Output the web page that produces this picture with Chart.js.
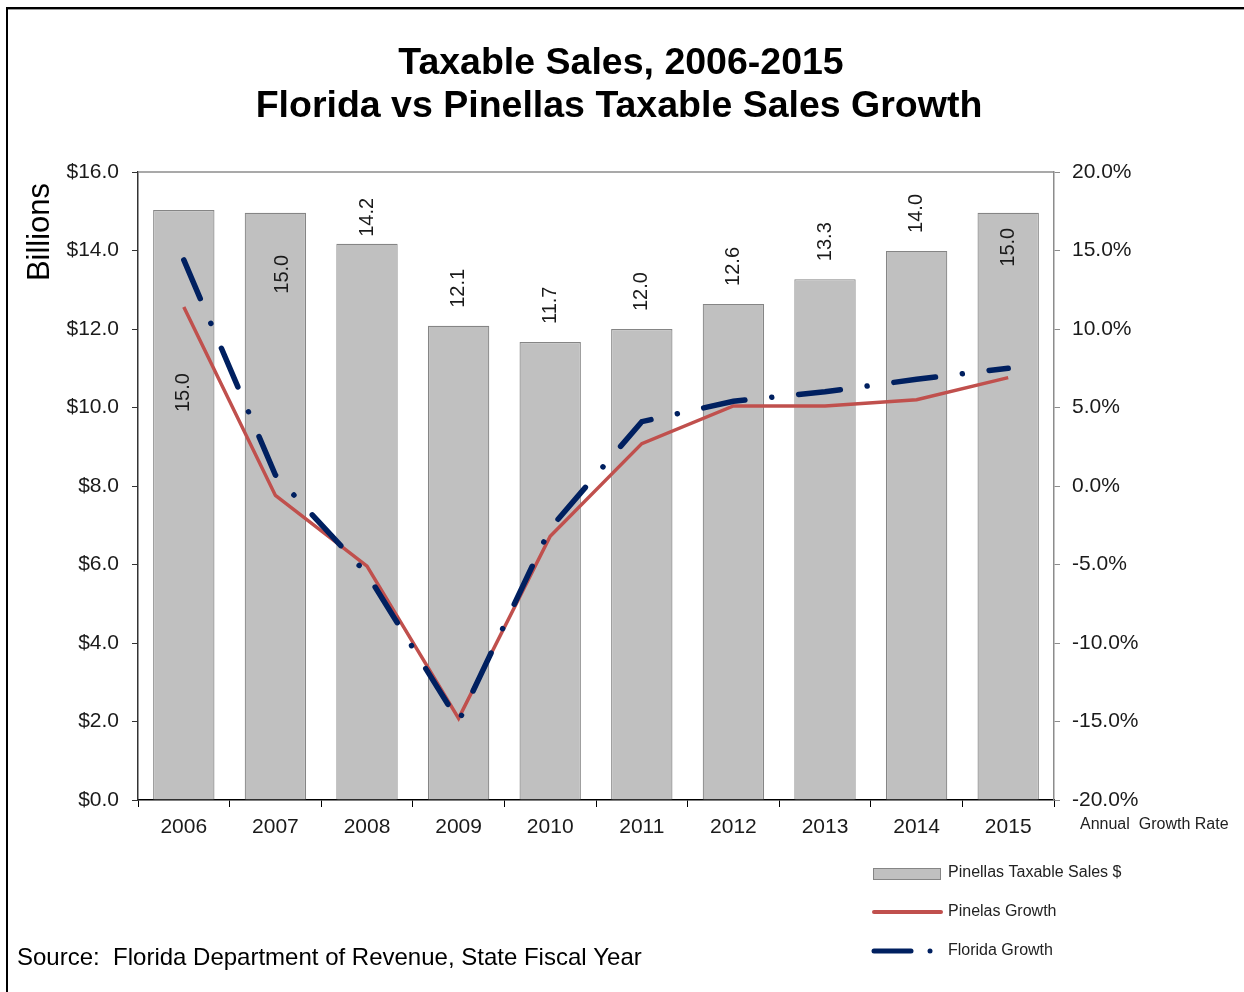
<!DOCTYPE html>
<html>
<head>
<meta charset="utf-8">
<script src="https://cdn.jsdelivr.net/npm/chart.js@4/dist/chart.umd.min.js"></script>
<style>
  html, body { margin: 0; padding: 0; background: #fff; }
  #wrap { width: 1244px; height: 992px; position: relative; }
</style>
</head>
<body>
<div id="wrap"><canvas id="taxable_sales" width="1244" height="992"></canvas></div>
<script>
const years = ["2006", "2007", "2008", "2009", "2010", "2011", "2012", "2013", "2014", "2015"];
const pinellasSales = [15.03, 14.96, 14.17, 12.08, 11.67, 12.0, 12.64, 13.27, 13.99, 14.96];
const pinellasGrowth = [11.4, -0.6, -5.1, -14.8, -3.2, 2.7, 5.1, 5.1, 5.5, 6.9];
const floridaGrowth = [14.4, 0.7, -5.6, -15.0, -2.7, 4.1, 5.4, 6.0, 6.8, 7.5];
const salesTicks = [0, 2, 4, 6, 8, 10, 12, 14, 16];
const growthTicks = [-20, -15, -10, -5, 0, 5, 10, 15, 20];

const FONT = "'Liberation Sans', Arial, sans-serif";
const TEXT = "#1a1a1a";

// value labels on the bars, rotated like the excel original
const barLabels = {
  id: "barLabels",
  afterDatasetsDraw(chart, args, opts) {
    const { ctx } = chart;
    const meta = chart.getDatasetMeta(0);
    ctx.save();
    ctx.font = "20px " + FONT;
    ctx.fillStyle = TEXT;
    ctx.textBaseline = "middle";
    meta.data.forEach((bar, i) => {
      const text = pinellasSales[i].toFixed(1);
      const nudge = opts.nudge[i] || {};
      ctx.save();
      if (nudge.inside !== undefined) {
        ctx.translate(bar.x + (nudge.dx || 0), bar.y + nudge.inside);
        ctx.rotate(-Math.PI / 2);
        ctx.textAlign = "right";
      } else {
        ctx.translate(bar.x + (nudge.dx || 0), bar.y - (nudge.gap || opts.gap));
        ctx.rotate(-Math.PI / 2);
        ctx.textAlign = "left";
      }
      ctx.fillText(text, 0, 0);
      ctx.restore();
    });
    ctx.restore();
  },
};

// title, frame, axis captions, legend and source note
const decorations = {
  id: "decorations",
  afterDraw(chart) {
    const { ctx, chartArea } = chart;
    ctx.save();

    // outer frame (left and top only are visible)
    ctx.fillStyle = "#000";
    ctx.fillRect(6, 7, 2, 985);
    ctx.fillRect(6, 7, 1238, 2);
    ctx.fillStyle = "#9a9a9a";
    ctx.fillRect(8, 9, 1236, 1);

    // top edge of plot area
    ctx.strokeStyle = "#8c8c8c";
    ctx.lineWidth = 1.5;
    ctx.beginPath();
    ctx.moveTo(chartArea.left, chartArea.top);
    ctx.lineTo(chartArea.right, chartArea.top);
    ctx.stroke();

    ctx.fillStyle = "#000";
    ctx.textAlign = "center";
    ctx.textBaseline = "middle";
    ctx.font = "bold 37.5px " + FONT;
    ctx.fillText("Taxable Sales, 2006-2015", 621, 64);
    ctx.fillText("Florida vs Pinellas Taxable Sales Growth", 619, 107);

    ctx.save();
    ctx.translate(40, 232);
    ctx.rotate(-Math.PI / 2);
    ctx.font = "31px " + FONT;
    ctx.fillText("Billions", 0, 0);
    ctx.restore();

    ctx.textAlign = "left";
    ctx.fillStyle = "#222";
    ctx.font = "16px " + FONT;
    ctx.fillText("Annual  Growth Rate", 1080, 825);

    ctx.font = "24px " + FONT;
    ctx.fillStyle = "#000";
    ctx.fillText("Source:  Florida Department of Revenue, State Fiscal Year", 17, 958);

    // legend
    const sets = chart.data.datasets;
    ctx.font = "16px " + FONT;
    ctx.fillStyle = sets[0].backgroundColor;
    ctx.fillRect(873, 868, 67, 11);
    ctx.strokeStyle = sets[0].borderColor;
    ctx.lineWidth = 1;
    ctx.strokeRect(873.5, 868.5, 67, 11);

    ctx.lineCap = "round";
    ctx.strokeStyle = sets[1].borderColor;
    ctx.lineWidth = 4;
    ctx.beginPath();
    ctx.moveTo(874, 912);
    ctx.lineTo(941, 912);
    ctx.stroke();

    ctx.strokeStyle = sets[2].borderColor;
    ctx.fillStyle = sets[2].borderColor;
    ctx.lineWidth = 5;
    ctx.beginPath();
    ctx.moveTo(874, 951);
    ctx.lineTo(911, 951);
    ctx.stroke();
    ctx.beginPath();
    ctx.arc(930, 951, 2.5, 0, Math.PI * 2);
    ctx.fill();

    ctx.fillStyle = "#222";
    ctx.fillText(sets[0].label, 948, 873);
    ctx.fillText(sets[1].label, 948, 912);
    ctx.fillText(sets[2].label, 948, 951);

    ctx.restore();
  },
};

new Chart(document.getElementById("taxable_sales"), {
  type: "bar",
  data: {
    labels: years,
    datasets: [
      {
        label: "Pinellas Taxable Sales $",
        data: pinellasSales,
        backgroundColor: "#c0c0c0",
        borderColor: "#858585",
        borderWidth: 1.2,
        categoryPercentage: 1,
        barPercentage: 0.67,
        yAxisID: "y",
        order: 3,
      },
      {
        type: "line",
        label: "Pinelas Growth",
        data: pinellasGrowth,
        borderColor: "#c0504d",
        borderWidth: 3.5,
        pointRadius: 0,
        tension: 0,
        yAxisID: "y1",
        order: 2,
      },
      {
        type: "line",
        label: "Florida Growth",
        data: floridaGrowth,
        borderColor: "#002060",
        borderWidth: 5.5,
        borderDash: [42, 27, 0.01, 27],
        borderCapStyle: "round",
        pointRadius: 0,
        tension: 0,
        yAxisID: "y1",
        order: 1,
      },
    ],
  },
  options: {
    responsive: false,
    animation: false,
    layout: {
      padding: { top: 172, left: 0, right: 0, bottom: 0 },
    },
    scales: {
      x: {
        offset: true,
        grid: {
          offset: true,
          drawOnChartArea: false,
          tickLength: 7,
          color: "#000",
        },
        border: { color: "#000", width: 1.5 },
        ticks: {
          color: TEXT,
          padding: 8,
          font: { family: FONT, size: 21 },
        },
        afterFit: (scale) => {
          scale.height = 192;
        },
      },
      y: {
        position: "left",
        min: salesTicks[0],
        max: salesTicks[salesTicks.length - 1],
        afterBuildTicks: (scale) => {
          scale.ticks = salesTicks.map((v) => ({ value: v }));
        },
        grid: {
          drawOnChartArea: false,
          tickLength: 6,
          color: "#333",
        },
        border: { color: "#333", width: 1.5 },
        ticks: {
          color: TEXT,
          padding: 13,
          font: { family: FONT, size: 21 },
          callback: (v) => "$" + Number(v).toFixed(1),
        },
        afterFit: (scale) => {
          scale.width = 138;
        },
      },
      y1: {
        position: "right",
        min: growthTicks[0],
        max: growthTicks[growthTicks.length - 1],
        afterBuildTicks: (scale) => {
          scale.ticks = growthTicks.map((v) => ({ value: v }));
        },
        grid: {
          drawOnChartArea: false,
          tickLength: 6,
          color: "#8c8c8c",
        },
        border: { color: "#8c8c8c", width: 1.5 },
        ticks: {
          color: TEXT,
          padding: 12,
          font: { family: FONT, size: 21 },
          callback: (v) => Number(v).toFixed(1) + "%",
        },
        afterFit: (scale) => {
          scale.width = 190;
        },
      },
    },
    plugins: {
      legend: { display: false },
      tooltip: { enabled: false },
      barLabels: {
        gap: 18,
        nudge: {
          0: { inside: 163 },
          1: { inside: 42, dx: 7 },
          2: { gap: 7 },
          9: { inside: 15 },
        },
      },
    },
  },
  plugins: [barLabels, decorations],
});
</script>
</body>
</html>
